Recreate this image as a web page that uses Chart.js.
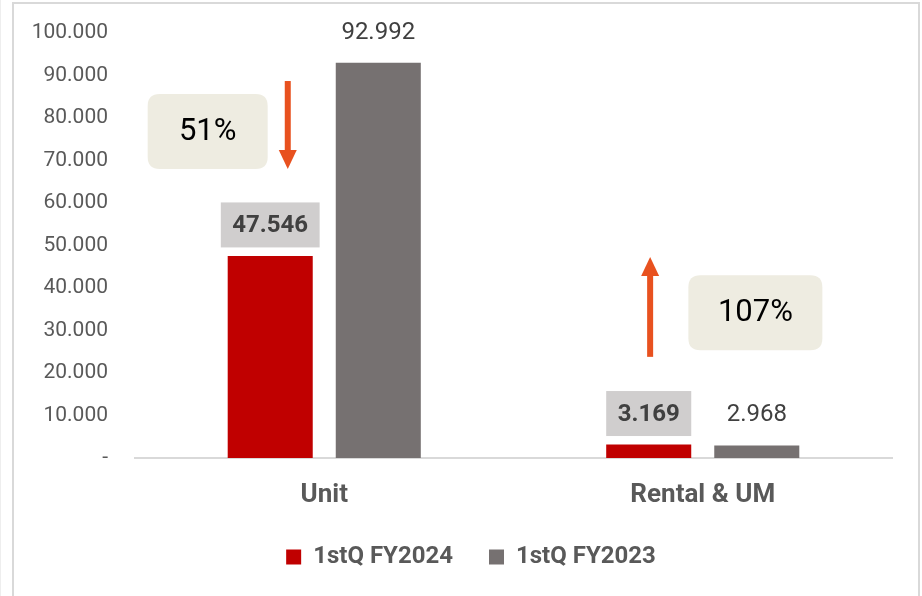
<!DOCTYPE html>
<html>
<head>
<meta charset="utf-8">
<script src="https://cdn.jsdelivr.net/npm/chart.js@4.4.1/dist/chart.umd.min.js"></script>
<style>
    html, body { margin: 0; padding: 0; background: #fff; }
    #wrap { width: 922px; height: 596px; }
</style>
</head>
<body>
<div id="wrap"><canvas id="chart" width="922" height="596"></canvas></div>
<script>
// 차트 데이터
const categories = ['Unit', 'Rental & UM'];
const seriesNames = ['1stQ FY2024', '1stQ FY2023'];
const fy2024Values = [47546, 3169];
const fy2023Values = [92992, 2968];
const yTickValues = [0, 10000, 20000, 30000, 40000, 50000, 60000, 70000, 80000, 90000, 100000];
const changeLabels = ['51%', '107%'];

const COLORS = {
    FY2024: '#C00000',
    FY2023: '#767171',
    TEXT: '#595959',
    LABEL: '#404040',
    LABEL_BOX: '#D0CECE',
    CALLOUT: '#EEECE1',
    ARROW: '#E8511F',
    LINE: '#D9D9D9'
};

Chart.defaults.font.family = 'Roboto, "Liberation Sans", sans-serif';

/**
 * 숫자 포맷 (천 단위 구분자 '.', 0은 '-')
 */
function formatNumber(value) {
    if (value === 0) return '-';
    return String(Math.round(value)).replace(/\B(?=(\d{3})+(?!\d))/g, '.');
}

function roundRectPath(ctx, x, y, w, h, r) {
    ctx.beginPath();
    ctx.moveTo(x + r, y);
    ctx.lineTo(x + w - r, y);
    ctx.quadraticCurveTo(x + w, y, x + w, y + r);
    ctx.lineTo(x + w, y + h - r);
    ctx.quadraticCurveTo(x + w, y + h, x + w - r, y + h);
    ctx.lineTo(x + r, y + h);
    ctx.quadraticCurveTo(x, y + h, x, y + h - r);
    ctx.lineTo(x, y + r);
    ctx.quadraticCurveTo(x, y, x + r, y);
    ctx.closePath();
}

// 배경 + 테두리, 범례 위치 보정
const framePlugin = {
    id: 'frame',
    afterLayout(chart) {
        // 범례를 오른쪽으로 조금 이동
        if (chart.legend) {
            chart.legend.left += 25;
            chart.legend.right += 25;
        }
    },
    beforeDraw(chart) {
        const ctx = chart.ctx;
        ctx.save();
        ctx.fillStyle = '#fff';
        ctx.fillRect(0, 0, chart.width, chart.height);
        ctx.strokeStyle = '#EEEEEE';
        ctx.lineWidth = 1;
        ctx.beginPath();
        ctx.moveTo(0.5, 0);
        ctx.lineTo(0.5, chart.height);
        ctx.stroke();
        ctx.strokeStyle = COLORS.LINE;
        ctx.lineWidth = 2;
        ctx.beginPath();
        ctx.moveTo(13, chart.height + 5);
        ctx.lineTo(13, 3);
        ctx.lineTo(919, 3);
        ctx.lineTo(919, chart.height + 5);
        ctx.stroke();
        ctx.restore();
    }
};

// 막대 값 라벨
const valueLabelPlugin = {
    id: 'valueLabels',
    afterDatasetsDraw(chart) {
        const ctx = chart.ctx;
        ctx.save();
        ctx.textAlign = 'center';
        ctx.textBaseline = 'middle';
        chart.data.datasets.forEach((ds, di) => {
            const meta = chart.getDatasetMeta(di);
            meta.data.forEach((bar, i) => {
                const text = formatNumber(ds.data[i]);
                const cy = bar.y - 31;
                if (di === 0) {
                    ctx.font = 'bold 24px Roboto';
                    const w = ctx.measureText(text).width + 23;
                    ctx.fillStyle = COLORS.LABEL_BOX;
                    ctx.fillRect(bar.x - w / 2, cy - 22.5, w, 45);
                } else {
                    ctx.font = '24px Roboto';
                }
                ctx.fillStyle = COLORS.LABEL;
                ctx.fillText(text, bar.x, cy + 1);
            });
        });
        ctx.restore();
    }
};

// 증감률 말풍선 + 화살표
const changePlugin = {
    id: 'changeNotes',
    afterDraw(chart, args, opts) {
        const ctx = chart.ctx;
        const xs = chart.scales.x;
        const ys = chart.scales.y;
        ctx.save();
        opts.callouts.forEach(c => {
            const cx = xs.getPixelForValue(c.x);
            const cy = ys.getPixelForValue(c.y);
            roundRectPath(ctx, cx - c.w / 2, cy - c.h / 2, c.w, c.h, 12);
            ctx.fillStyle = COLORS.CALLOUT;
            ctx.fill();
            ctx.fillStyle = '#000';
            ctx.font = '31px Roboto';
            ctx.textAlign = 'center';
            ctx.textBaseline = 'middle';
            ctx.fillText(c.text, cx, cy + 1);
        });
        opts.arrows.forEach(a => {
            const x = xs.getPixelForValue(a.x);
            const y1 = ys.getPixelForValue(a.from);
            const y2 = ys.getPixelForValue(a.to);
            const dir = y2 > y1 ? 1 : -1;
            const headLen = 19;
            const headW = 18;
            ctx.fillStyle = COLORS.ARROW;
            ctx.fillRect(x - 3, Math.min(y1, y2 - dir * headLen), 6, Math.abs(y2 - dir * headLen - y1));
            ctx.beginPath();
            ctx.moveTo(x - headW / 2, y2 - dir * headLen);
            ctx.lineTo(x + headW / 2, y2 - dir * headLen);
            ctx.lineTo(x, y2);
            ctx.closePath();
            ctx.fill();
        });
        ctx.restore();
    }
};

const chart = new Chart(document.getElementById('chart').getContext('2d'), {
    type: 'bar',
    data: {
        labels: categories,
        datasets: [
            {
                label: seriesNames[0],
                data: fy2024Values,
                backgroundColor: COLORS.FY2024,
                categoryPercentage: 0.571,
                barPercentage: 0.787
            },
            {
                label: seriesNames[1],
                data: fy2023Values,
                backgroundColor: COLORS.FY2023,
                categoryPercentage: 0.571,
                barPercentage: 0.787
            }
        ]
    },
    options: {
        responsive: false,
        animation: false,
        layout: {
            padding: { left: 0, right: 30, top: 33, bottom: 17 }
        },
        plugins: {
            legend: {
                position: 'bottom',
                labels: {
                    boxWidth: 15,
                    boxHeight: 15,
                    padding: 36,
                    color: COLORS.TEXT,
                    font: { size: 24, weight: 'bold' }
                }
            },
            tooltip: { enabled: false },
            changeNotes: {
                callouts: [
                    { text: changeLabels[0], x: -0.308, y: 76800, w: 120, h: 75 },
                    { text: changeLabels[1], x: 1.139, y: 34200, w: 134, h: 75 }
                ],
                arrows: [
                    { x: -0.0964, from: 88700, to: 68000 },
                    { x: 0.861, from: 23800, to: 47300 }
                ]
            }
        },
        scales: {
            x: {
                grid: { display: false, drawTicks: false },
                border: { display: true, color: COLORS.LINE, width: 2 },
                ticks: {
                    padding: 22,
                    color: COLORS.TEXT,
                    font: { size: 26, weight: 'bold' }
                },
                afterFit(scale) { scale.height = 51; }
            },
            y: {
                min: 0,
                max: 100000,
                grid: { display: false, drawTicks: false },
                border: { display: false },
                afterBuildTicks(scale) {
                    scale.ticks = yTickValues.map(v => ({ value: v }));
                },
                ticks: {
                    padding: 27,
                    color: COLORS.TEXT,
                    font: { size: 21 },
                    callback: value => formatNumber(value)
                },
                afterFit(scale) {
                    scale.width = 135;
                    scale.paddingTop = 0;
                    scale.paddingBottom = 0;
                }
            }
        }
    },
    plugins: [framePlugin, valueLabelPlugin, changePlugin]
});
</script>
</body>
</html>
